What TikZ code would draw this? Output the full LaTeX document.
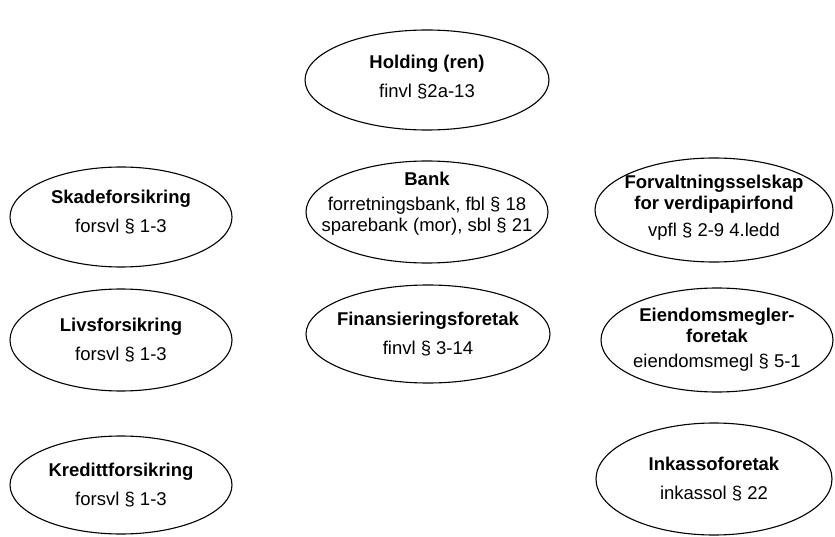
\documentclass[tikz,border=0pt]{standalone}
\usepackage{fontspec}
\setmainfont{Liberation Sans}
\usetikzlibrary{shapes.geometric}

\begin{document}
\begin{tikzpicture}[x=1pt,y=-1pt,
            firm/.style={ellipse, draw, line width=1.1pt, inner sep=0pt},
            firmtext/.style={align=center, inner sep=0pt,
                font=\fontsize{18.5}{21}\selectfont},
            every node/.style={}]
            \useasboundingbox (0,0) rectangle (835,537);
            % midtre kolonne
            \node[firm, minimum width=244pt, minimum height=100pt] (holding) at (427,80) {};
            \node[firmtext, yshift=3pt] (holding-t) at (holding.center)
                {\textbf{Holding (ren)}\\[8pt] finvl §2a-13};
            \node[firm, minimum width=242pt, minimum height=102pt] (bank) at (427,212) {};
            \node[firmtext, yshift=8pt] (bank-t) at (bank.center)
                {\textbf{Bank}\\[4pt] forretningsbank, fbl § 18\\ sparebank (mor), sbl § 21};
            \node[firm, minimum width=244pt, minimum height=98pt] (finans) at (428,334) {};
            \node[firmtext] (finans-t) at (finans.center)
                {\textbf{Finansieringsforetak}\\[8pt] finvl § 3-14};
            % venstre kolonne
            \node[firm, minimum width=222pt, minimum height=100pt] (skade) at (121,217) {};
            \node[firmtext, yshift=5pt] (skade-t) at (skade.center)
                {\textbf{Skadeforsikring}\\[8pt] forsvl § 1-3};
            \node[firm, minimum width=222pt, minimum height=102pt] (livs) at (121,340) {};
            \node[firmtext] (livs-t) at (livs.center)
                {\textbf{Livsforsikring}\\[8pt] forsvl § 1-3};
            \node[firm, minimum width=222pt, minimum height=98pt] (kreditt) at (121,485) {};
            \node[firmtext] (kreditt-t) at (kreditt.center)
                {\textbf{Kredittforsikring}\\[8pt] forsvl § 1-3};
            % hoyre kolonne
            \node[firm, minimum width=238pt, minimum height=104pt] (forvaltning) at (714,210) {};
            \node[firmtext, yshift=2pt] (forvaltning-t) at (forvaltning.center)
                {\textbf{Forvaltningsselskap}\\ \textbf{for verdipapirfond}\\[6pt] vpfl § 2-9 4.ledd};
            \node[firm, minimum width=232pt, minimum height=104pt] (eiendom) at (717,340) {};
            \node[firmtext] (eiendom-t) at (eiendom.center)
                {\textbf{Eiendomsmegler-}\\ \textbf{foretak}\\[4pt] eiendomsmegl § 5-1};
            \node[firm, minimum width=236pt, minimum height=112pt] (inkasso) at (714,479) {};
            \node[firmtext] (inkasso-t) at (inkasso.center)
                {\textbf{Inkassoforetak}\\[8pt] inkassol § 22};
        \end{tikzpicture}
\end{document}
